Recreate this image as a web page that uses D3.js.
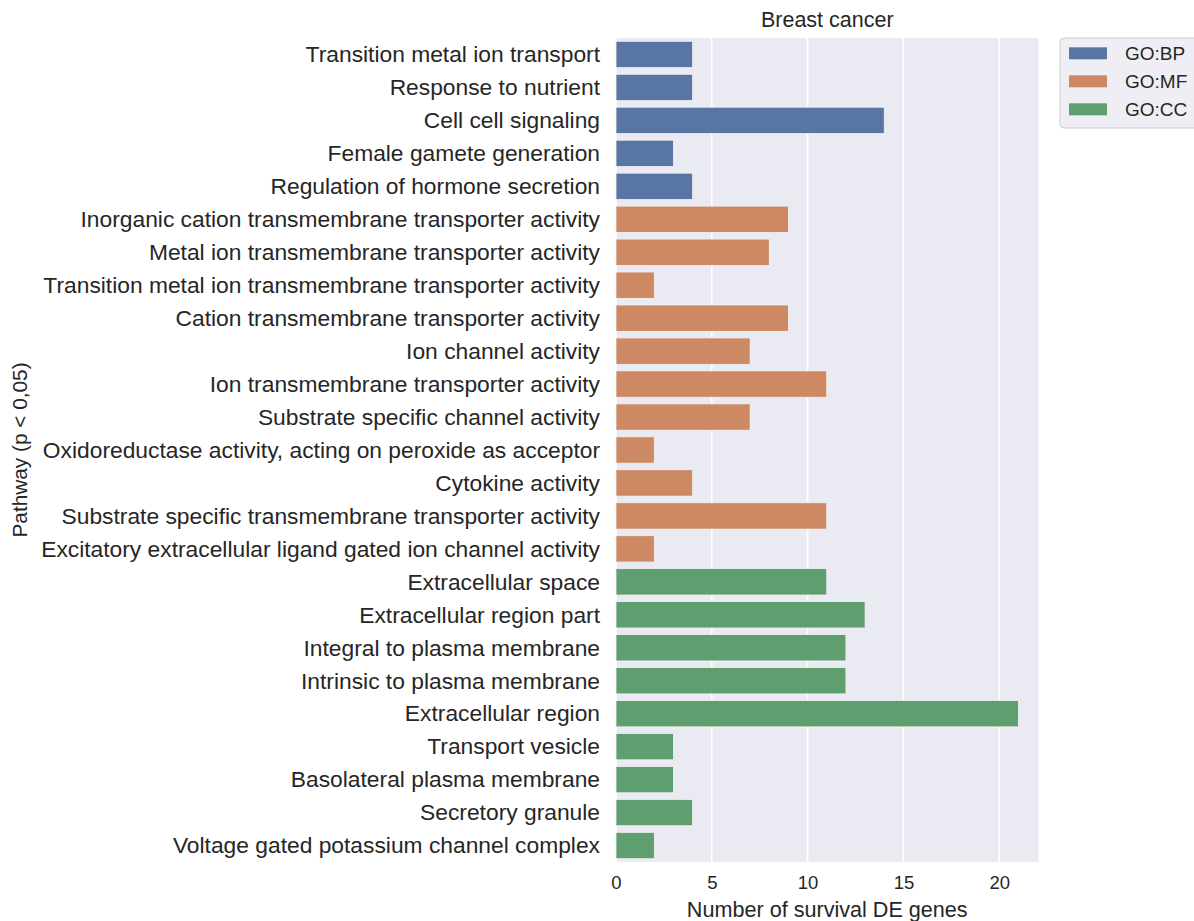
<!DOCTYPE html>
<html>
<head>
<meta charset="utf-8">
<script src="https://cdn.jsdelivr.net/npm/d3@7"></script>
<style>
  html, body { margin: 0; padding: 0; background: #ffffff; }
  svg { display: block; font-family: "Liberation Sans", Arial, Helvetica, sans-serif; }
</style>
</head>
<body>
<svg id="chart" width="1194" height="921"></svg>
<script>
const pathways = [
  "Transition metal ion transport",
  "Response to nutrient",
  "Cell cell signaling",
  "Female gamete generation",
  "Regulation of hormone secretion",
  "Inorganic cation transmembrane transporter activity",
  "Metal ion transmembrane transporter activity",
  "Transition metal ion transmembrane transporter activity",
  "Cation transmembrane transporter activity",
  "Ion channel activity",
  "Ion transmembrane transporter activity",
  "Substrate specific channel activity",
  "Oxidoreductase activity, acting on peroxide as acceptor",
  "Cytokine activity",
  "Substrate specific transmembrane transporter activity",
  "Excitatory extracellular ligand gated ion channel activity",
  "Extracellular space",
  "Extracellular region part",
  "Integral to plasma membrane",
  "Intrinsic to plasma membrane",
  "Extracellular region",
  "Transport vesicle",
  "Basolateral plasma membrane",
  "Secretory granule",
  "Voltage gated potassium channel complex"
];
const geneCounts = [4, 4, 14, 3, 4, 9, 8, 2, 9, 7, 11, 7, 2, 4, 11, 2, 11, 13, 12, 12, 21, 3, 3, 4, 2];
const groups = ["GO:BP","GO:BP","GO:BP","GO:BP","GO:BP",
  "GO:MF","GO:MF","GO:MF","GO:MF","GO:MF","GO:MF","GO:MF","GO:MF","GO:MF","GO:MF","GO:MF",
  "GO:CC","GO:CC","GO:CC","GO:CC","GO:CC","GO:CC","GO:CC","GO:CC","GO:CC"];
const groupNames = ["GO:BP", "GO:MF", "GO:CC"];
const groupColors = ["#5875A4", "#CC8963", "#5F9E6E"];
const xTicks = [0, 5, 10, 15, 20];
const title = "Breast cancer";
const xLabel = "Number of survival DE genes";
const yLabel = "Pathway (p < 0,05)";

const rows = pathways.map((p, i) => ({ name: p, value: geneCounts[i], group: groups[i] }));

const svg = d3.select("#chart");
const plot = { left: 616, right: 1038.5, top: 38, bottom: 862 };

const x = d3.scaleLinear().domain([0, d3.max(geneCounts) * 1.05]).range([plot.left, plot.right]);
const band = (plot.bottom - plot.top) / pathways.length;
const yPos = d3.scalePoint().domain(pathways).range([plot.top + band / 2, plot.bottom - band / 2]);
const color = d3.scaleOrdinal().domain(groupNames).range(groupColors);

// background
svg.append("rect").attr("x", plot.left).attr("y", plot.top)
  .attr("width", plot.right - plot.left).attr("height", plot.bottom - plot.top)
  .attr("fill", "#EAEAF2");

// grid
svg.append("g").selectAll("line").data(xTicks).join("line")
  .attr("x1", d => x(d)).attr("x2", d => x(d))
  .attr("y1", plot.top).attr("y2", plot.bottom)
  .attr("stroke", "#ffffff").attr("stroke-width", 1.6);

// bars
const barH = band * 0.8;
svg.append("g").selectAll("rect").data(rows).join("rect")
  .attr("x", x(0))
  .attr("y", d => yPos(d.name) - barH / 2)
  .attr("width", d => x(d.value) - x(0))
  .attr("height", barH)
  .attr("fill", d => color(d.group))
  .attr("stroke", "#f3f3f3").attr("stroke-width", 0.8);

// y axis labels
const yAxis = d3.axisLeft(yPos).tickSize(0).tickPadding(16);
const gy = svg.append("g").attr("transform", `translate(${plot.left},0)`).call(yAxis);
gy.select(".domain").remove();
gy.selectAll("text").attr("font-size", 22.8).attr("fill", "#262626")
  .attr("font-family", "'Liberation Sans', Arial, sans-serif");

// x axis
const xAxis = d3.axisBottom(x).tickValues(xTicks).tickSize(0).tickPadding(14);
const gx = svg.append("g").attr("transform", `translate(0,${plot.bottom})`).call(xAxis);
gx.select(".domain").remove();
gx.selectAll("text").attr("font-size", 18.5).attr("fill", "#262626")
  .attr("font-family", "'Liberation Sans', Arial, sans-serif");

// title
svg.append("text").attr("x", (plot.left + plot.right) / 2).attr("y", 27)
  .attr("text-anchor", "middle").attr("font-size", 21.5).attr("fill", "#262626").text(title);

// x label
svg.append("text").attr("x", (plot.left + plot.right) / 2).attr("y", 917)
  .attr("text-anchor", "middle").attr("font-size", 21.6).attr("fill", "#262626").text(xLabel);

// y label
svg.append("text").attr("transform", `translate(27,${(plot.top + plot.bottom) / 2}) rotate(-90)`)
  .attr("text-anchor", "middle").attr("font-size", 20.8).attr("fill", "#262626").text(yLabel);

// legend
const lg = svg.append("g");
lg.append("rect").attr("x", 1060).attr("y", 38).attr("width", 160).attr("height", 90)
  .attr("rx", 4).attr("fill", "#EEEEF4").attr("stroke", "#cccccc").attr("stroke-width", 1);
const li = lg.selectAll("g.item").data(groupNames).join("g").attr("class", "item")
  .attr("transform", (d, i) => `translate(1069,${53.3 + i * 28})`);
li.append("rect").attr("x", 0).attr("y", -6).attr("width", 38).attr("height", 12)
  .attr("fill", d => color(d));
li.append("text").attr("x", 56).attr("y", 0).attr("dy", "0.35em")
  .attr("font-size", 19).attr("fill", "#262626").text(d => d);
</script>
</body>
</html>
